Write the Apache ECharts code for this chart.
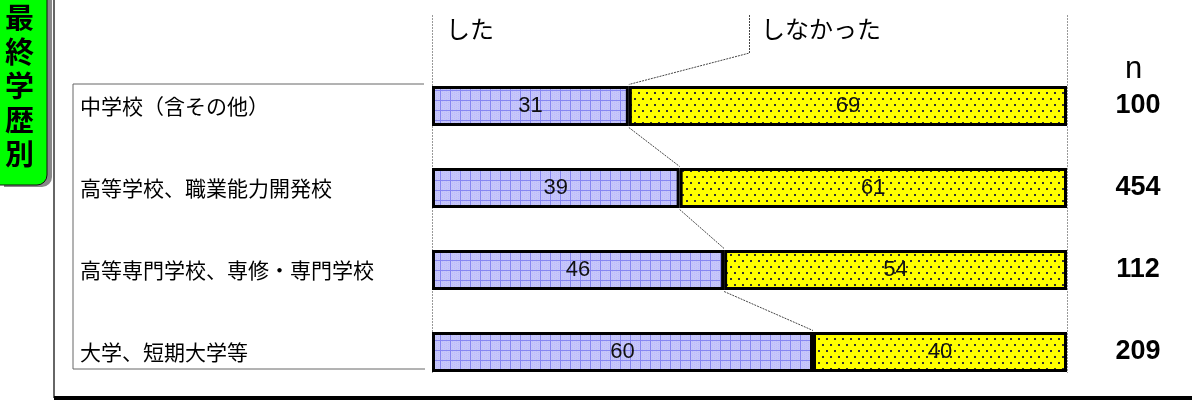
<!DOCTYPE html>
<html>
 <head>
  <title>最終学歴別</title>
  <script src="https://cdn.jsdelivr.net/npm/echarts@6/dist/echarts.min.js"></script>
  <style>
    html, body, #container {
    width: 1192px;
    height: 401px;
    margin: 0;
    padding: 0;
    background: #fff;
    }
  </style>
 </head>
  <body>
    <div id="container"></div>
    <script>
// data
var categories = ['中学校（含その他）', '高等学校、職業能力開発校', '高等専門学校、専修・専門学校', '大学、短期大学等'];
var did = [31, 39, 46, 60];       // した
var didNot = [69, 61, 54, 40];    // しなかった
var nCounts = ['100', '454', '112', '209'];
var seriesNames = ['した', 'しなかった'];
var groupTitle = ['最', '終', '学', '歴', '別'];

var jp = '"Noto Sans CJK JP", "Noto Sans", sans-serif';
var latin = '"Liberation Sans", Arial, sans-serif';
var barW = 40;

// fill patterns: blue grid and yellow dots
function gridPattern() {
  var c = document.createElement('canvas');
  c.width = 10; c.height = 10;
  var g = c.getContext('2d');
  g.fillStyle = '#c6c6fb';
  g.fillRect(0, 0, 10, 10);
  g.fillStyle = '#bcbcf8';
  for (var x = 0; x < 10; x += 2) {
    for (var y = (x / 2) % 2; y < 10; y += 2) g.fillRect(x, y, 1, 1);
  }
  g.fillStyle = '#8686f2';
  g.fillRect(0, 0, 1, 10);
  g.fillRect(0, 0, 10, 1);
  return c;
}
function dotPattern() {
  var c = document.createElement('canvas');
  c.width = 8; c.height = 12;
  var g = c.getContext('2d');
  g.fillStyle = '#ffff00';
  g.fillRect(0, 0, 8, 12);
  g.fillStyle = '#333';
  g.fillRect(2, 2, 2, 2);
  g.fillRect(6, 8, 2, 2);
  return c;
}

var chartDom = document.getElementById('container');
var myChart = echarts.init(chartDom);

var titleTexts = groupTitle.map(function (ch, i) {
  return {
    type: 'text', left: 5, top: 3 + i * 34, z: 20,
    style: { text: ch, font: 'bold 29px ' + jp, fill: '#000' }
  };
});

var option = {
  animation: false,
  grid: [
    { left: 432, right: 125, top: 65, bottom: 8 },
    { left: 432, right: 125, top: 15, bottom: 28 }
  ],
  xAxis: [
    { type: 'value', gridIndex: 0, min: 0, max: 100, show: false },
    { type: 'value', gridIndex: 1, min: 0, max: 100, interval: 100,
      axisLine: { show: false }, axisTick: { show: false }, axisLabel: { show: false },
      splitLine: { show: true, lineStyle: { color: '#999', type: [2, 1], width: 1 } } }
  ],
  yAxis: [
    { type: 'category', gridIndex: 0, data: categories, inverse: true,
      axisLine: { show: false }, axisTick: { show: false },
      axisLabel: { margin: 352, align: 'left', fontSize: 21, color: '#000', fontFamily: jp,
        padding: [12, 0, 0, 0] } },
    { type: 'category', gridIndex: 0, data: nCounts, inverse: true, position: 'right',
      axisLine: { show: false }, axisTick: { show: false },
      axisLabel: { margin: 71, align: 'center', fontSize: 27, fontWeight: 'bold', color: '#000', fontFamily: latin } },
    { type: 'value', gridIndex: 1, show: false }
  ],
  graphic: [
    // outer frame
    { type: 'polyline', z: 1, shape: { points: [[54, 0], [54, 398]] },
      style: { stroke: '#333', lineWidth: 1.5, fill: null } },
    { type: 'rect', z: 1, shape: { x: 54, y: 396, width: 1140, height: 4 },
      style: { fill: '#000' } },
    // label box
    { type: 'polyline', z: 1, shape: { points: [[424, 84], [73, 84], [73, 369], [425, 369]] },
      style: { stroke: '#666', lineWidth: 1, fill: null } },
    // green title tab with shadow
    { type: 'rect', z: 10, shape: { x: 4, y: -10, width: 48, height: 197, r: [0, 10, 10, 0] },
      style: { fill: '#888' } },
    { type: 'rect', z: 11, shape: { x: -2, y: -10, width: 49, height: 195, r: [0, 10, 10, 0] },
      style: { fill: '#00ff00', stroke: '#111', lineWidth: 1 } }
  ].concat(titleTexts).concat([
    { type: 'text', left: 446, top: 17, z: 5,
      style: { text: seriesNames[0], font: '24px ' + jp, fill: '#000' } },
    { type: 'text', left: 761, top: 17, z: 5,
      style: { text: seriesNames[1], font: '24px ' + jp, fill: '#000' } },
    { type: 'text', left: 1125, top: 54, z: 5,
      style: { text: 'n', font: '31px ' + latin, fill: '#000' } }
  ]),
  series: [
    {
      name: seriesNames[0], type: 'bar', stack: 'all', barWidth: barW,
      data: did,
      itemStyle: { color: { image: gridPattern(), repeat: 'repeat' }, borderColor: '#000', borderWidth: 3 },
      label: { show: true, position: 'inside', fontSize: 22, color: '#111', fontFamily: latin }
    },
    {
      name: seriesNames[1], type: 'bar', stack: 'all', barWidth: barW,
      data: didNot,
      itemStyle: { color: { image: dotPattern(), repeat: 'repeat' }, borderColor: '#000', borderWidth: 3 },
      label: { show: true, position: 'inside', fontSize: 22, color: '#111', fontFamily: latin }
    },
    {
      // series lines between bars and the leader of the しなかった label
      type: 'custom', z: 3,
      data: did.map(function (v, i) { return [v, i]; }),
      encode: { x: 0, y: 1 },
      renderItem: function (params, api) {
        var i = params.dataIndex;
        var half = barW / 2 + 1.5;
        var lineStyle = { stroke: '#444', lineWidth: 1, lineDash: [2, 1], fill: null };
        var kids = [];
        var p1 = api.coord([did[i], i]);
        if (i < did.length - 1) {
          var p2 = api.coord([did[i + 1], i + 1]);
          kids.push({ type: 'line', shape: { x1: p1[0], y1: p1[1] + half, x2: p2[0], y2: p2[1] - half },
            style: lineStyle });
        }
        if (i === 0) {
          var kx = api.coord([50, 0])[0];
          kids.push({ type: 'polyline', shape: { points: [[kx, 15], [kx, 53], [p1[0], p1[1] - half]] },
            style: lineStyle });
        }
        return { type: 'group', children: kids };
      }
    }
  ]
};

option && myChart.setOption(option);
    </script>
  </body>
</html>
